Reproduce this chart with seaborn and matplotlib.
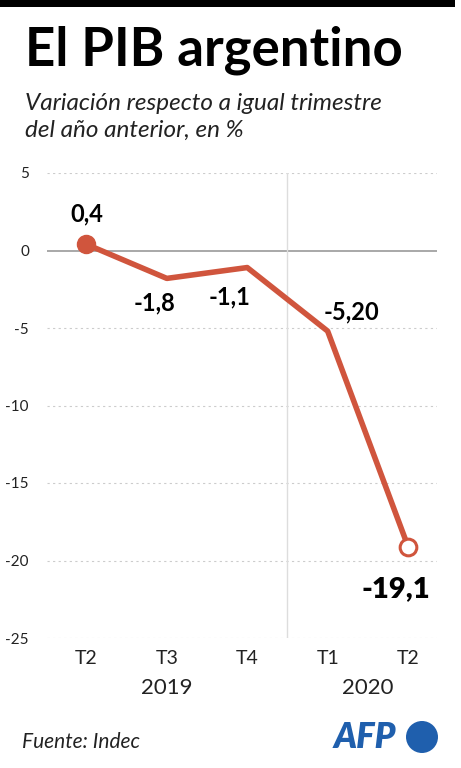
import numpy as np
import pandas as pd
import matplotlib
matplotlib.use("Agg")
import matplotlib.pyplot as plt
import seaborn as sns
from matplotlib.patches import Circle, Rectangle

# Datos
trimestres = ["T2", "T3", "T4", "T1", "T2"]
anios = ["2019", "2020"]
pib = [0.4, -1.8, -1.1, -5.2, -19.1]
etiquetas = ["0,4", "-1,8", "-1,1", "-5,20", "-19,1"]
yticks = [5, 0, -5, -10, -15, -20, -25]

rojo = "#d0553d"
azul = "#1f5fad"

sns.set_style("white")
plt.rcParams['font.family'] = ['Lato', 'DejaVu Sans']

df = pd.DataFrame({"x": np.arange(len(pib)), "pib": pib})

fig = plt.figure(figsize=(4.61, 7.68), dpi=100)
ax = fig.add_axes([47/461, 1 - 638/768, 390/461, 465/768])

# Rejilla
for v in yticks:
    if v == 0:
        ax.axhline(0, color="#999999", lw=1.2, zorder=1)
    else:
        ax.axhline(v, color="#cccccc", lw=0.8, ls=(0, (2, 3)), zorder=1)
ax.axvline(2.5, color="#dddddd", lw=1, zorder=1)

sns.lineplot(data=df, x="x", y="pib", ax=ax, color=rojo, lw=4, zorder=3)
ax.plot(df["x"].iloc[0], df["pib"].iloc[0], "o", ms=13, color=rojo, zorder=4)
ax.plot(df["x"].iloc[-1], df["pib"].iloc[-1], "o", ms=12, mfc="white", mec=rojo, mew=2.2, zorder=4)

# Etiquetas de datos
offsets = [(0, 22), (-9, -18), (-13, -21), (17, 14), (-9, -31)]
tamanos = [17, 17, 17, 17, 21]
pesos = ["bold", "bold", "bold", "bold", "heavy"]
for i, (val, lab) in enumerate(zip(pib, etiquetas)):
    ax.annotate(lab, (i, val), xytext=offsets[i], textcoords="offset points",
                ha="center", va="center", fontsize=tamanos[i], fontweight=pesos[i],
                color="black", zorder=5)

ax.set_xlim(-0.49, 4.36)
ax.set_ylim(-25, 5)
ax.set_yticks(yticks)
ax.set_yticklabels([str(v) for v in yticks], fontsize=11, color="#222222")
ax.set_xticks(range(len(trimestres)))
ax.set_xticklabels(trimestres, fontsize=14, color="#222222")
ax.tick_params(axis="x", length=0, pad=9)
ax.tick_params(axis="y", length=0, pad=13)
ax.set_xlabel("")
ax.set_ylabel("")
for s in ax.spines.values():
    s.set_visible(False)

# Años
ax.text(1, -0.107, anios[0], transform=ax.get_xaxis_transform(), ha="center", va="center",
        fontsize=16, color="#222222")
ax.text(3.5, -0.107, anios[1], transform=ax.get_xaxis_transform(), ha="center", va="center",
        fontsize=16, color="#222222")

# Títulos
fig.add_artist(Rectangle((0, 1 - 7/768), 455/461, 7/768, transform=fig.transFigure,
                         color="black", lw=0))
fig.text(25/461, 1 - 50/768, "El PIB argentino", fontsize=38, fontweight="bold",
         ha="left", va="center", color="black")
fig.text(25/461, 1 - 103/768, "Variación respecto a igual trimestre", fontsize=17.5,
         style="italic", ha="left", va="center", color="#222222")
fig.text(25/461, 1 - 130/768, "del año anterior, en %", fontsize=17.5,
         style="italic", ha="left", va="center", color="#222222")

# Pie
fig.text(22/461, 1 - 742/768, "Fuente: Indec", fontsize=15, style="italic",
         ha="left", va="center", color="#222222")
fig.text(334/461, 1 - 738/768, "AFP", fontsize=25, fontweight="heavy", style="italic",
         ha="left", va="center", color=azul)
fig.add_artist(Circle((4.22, (768 - 737) / 100), 0.16, transform=fig.dpi_scale_trans,
                      color=azul, lw=0))

fig.savefig("out.png", dpi=100)
